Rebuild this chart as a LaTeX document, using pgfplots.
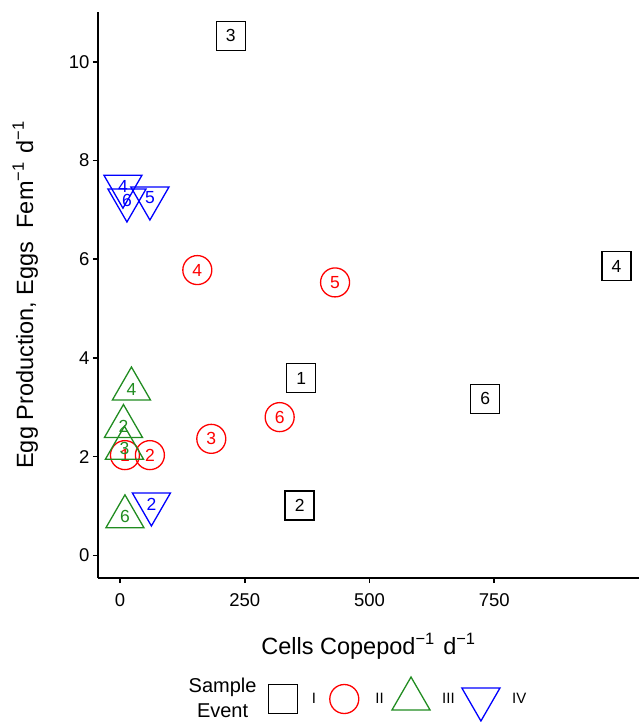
\documentclass[border=0pt]{standalone}
\usepackage{pgfplots}
\pgfplotsset{compat=1.18}
\usepackage{pgfplotstable}
\usepackage{fontspec}
\setmainfont{Liberation Sans}
\definecolor{cI}{rgb}{0,0,0}
\definecolor{cII}{rgb}{1,0,0}
\definecolor{cIII}{rgb}{0.13,0.55,0.13}
\definecolor{cIV}{rgb}{0,0,1}

\pgfplotsset{
  legimg/.style 2 args={legend image code/.code={\path (-#1,0pt) (#2,0pt); \draw[##1] plot coordinates {(0pt,0pt)};}}
}

\pgfplotstableread{
x y l
363 3.59 1
360 1.01 2
222 10.53 3
995 5.86 4
732 3.17 6
}\dataI
\pgfplotstableread{
x y l
10 2.03 1
60 2.03 2
183 2.36 3
155 5.78 4
431 5.53 5
320 2.80 6
}\dataII
\pgfplotstableread{
x y l
9 2.17 3
7 2.61 2
23 3.37 4
10 0.78 6
}\dataIII
\pgfplotstableread{
x y l
6 7.48 4
14 7.20 6
60 7.24 5
63 1.04 2
}\dataIV

\begin{document}
\begin{tikzpicture}
\begin{axis}[
  at={(0,0)}, anchor=south west,
  scale only axis, width=541pt, height=566pt,
  xmin=-44, xmax=1040, ymin=-0.46, ymax=11.01,
  axis lines*=left,
  axis line style={line width=1.6pt, black},
  xtick={0,250,500,750}, ytick={0,2,4,6,8,10},
  tick align=outside, major tick length=5pt,
  major tick style={line width=1.6pt, black},
  ticklabel style={font=\fontsize{18.5}{20}\selectfont},
  xticklabel style={yshift=-7pt},
  /pgf/number format/assume math mode=true,
  clip=false,
  xlabel={Cells Copepod\textsuperscript{−1}\hspace{2pt} d\textsuperscript{−1}},
  xlabel style={at={(axis description cs:0.5,-0.1343)}, anchor=base, font=\fontsize{23.5}{25}\selectfont},
  ylabel={Egg Production, Eggs\ \ Fem\textsuperscript{−1}\hspace{2pt} d\textsuperscript{−1}},
  ylabel style={at={(axis description cs:-0.1201,0.5)}, rotate=0, anchor=base, font=\fontsize{23.5}{25}\selectfont},
  point meta=explicit symbolic,
  nodes near coords,
  every node near coord/.append style={anchor=center, font=\fontsize{17.5}{19}\selectfont, inner sep=0pt},
  legend columns=-1,
  legend style={draw=none, fill=none, at={(axis description cs:0.1414,-0.2138)}, anchor=west,
    font=\fontsize{15}{17}\selectfont,
    /tikz/every even column/.append style={column sep=4pt},
    /tikz/every odd column/.append style={column sep=9pt}},
]
\addlegendimage{empty legend}
\addlegendentry{\fontsize{20}{25}\selectfont\raisebox{4pt}{\begin{tabular}[b]{@{}c@{}}Sample\\Event\end{tabular}}}

\addplot[only marks, draw=cI, mark=square, mark size=14.5pt,
  mark options={line width=1.3pt, fill=none},
  every node near coord/.append style={text=cI},
  legimg={20pt}{18pt}]
  table[x=x, y=y, meta=l] {\dataI};
\addlegendentry{I}

\addplot[only marks, draw=cII, mark=o, mark size=14.5pt,
  mark options={line width=1.3pt, fill=none},
  every node near coord/.append style={text=cII},
  legimg={22pt}{20pt}]
  table[x=x, y=y, meta=l] {\dataII};
\addlegendentry{II}

\addplot[only marks, draw=cIII, mark=triangle, mark size=22pt,
  mark options={line width=1.3pt, fill=none},
  every node near coord/.append style={text=cIII},
  legimg={21pt}{20pt}]
  table[x=x, y=y, meta=l] {\dataIII};
\addlegendentry{III}

\addplot[only marks, draw=cIV, mark=triangle, mark size=22pt,
  mark options={line width=1.3pt, fill=none, rotate=180},
  every node near coord/.append style={text=cIV},
  legimg={20pt}{20pt}]
  table[x=x, y=y, meta=l] {\dataIV};
\addlegendentry{IV}
\end{axis}
\pgfresetboundingbox
\path (-98pt,-144pt) rectangle (541pt,578pt);
\end{tikzpicture}
\end{document}
